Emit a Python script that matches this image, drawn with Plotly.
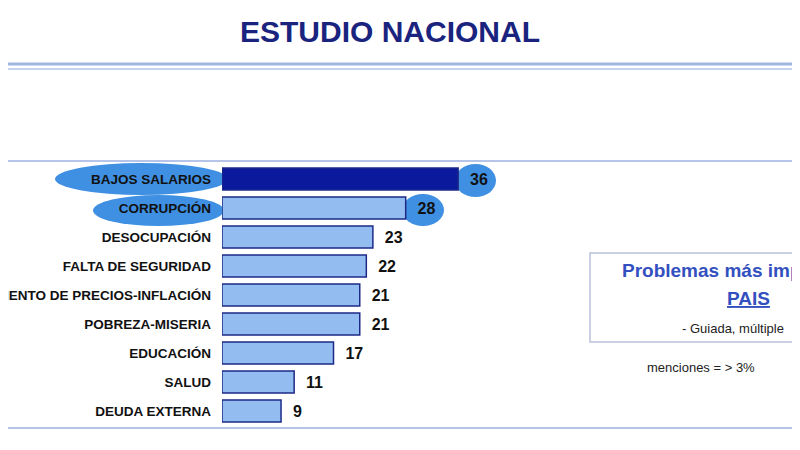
import plotly.graph_objects as go

problemas = ["BAJOS SALARIOS", "CORRUPCIÓN", "DESOCUPACIÓN", "FALTA DE SEGURIDAD",
             "AUMENTO DE PRECIOS-INFLACIÓN", "POBREZA-MISERIA", "EDUCACIÓN", "SALUD",
             "DEUDA EXTERNA"]
menciones = [36, 28, 23, 22, 21, 21, 17, 11, 9]

W, H = 800, 450
OFF = 8  # margen del body de la pagina


def px(x):
    return (x - OFF) / W


def py(y):
    return 1 - (y - OFF) / H


colores = ["#0b1a9c"] + ["#93bcf0"] * (len(menciones) - 1)

fig = go.Figure(go.Bar(
    y=problemas, x=menciones, orientation="h",
    marker=dict(color=colores, line=dict(color="#1c2a86", width=1.5)),
    width=0.76,
    text=["  <b>%d</b>" % v for v in menciones], textposition="outside", cliponaxis=False,
    textfont=dict(family="Liberation Sans", size=16, color="#111"),
))

shapes = []
# lineas horizontales
for y, w, c in [(64, 3, "#9fb6e0"), (69, 2, "#c5d3ee"), (161, 2, "#b5c4e8"), (428, 2, "#b5c4e8")]:
    shapes.append(dict(type="line", xref="paper", yref="paper", x0=-0.05, x1=1.05,
                       y0=py(y), y1=py(y), line=dict(color=c, width=w)))
# elipses resaltadas
for x0, x1, y0, y1 in [(55, 228, 163, 195), (455, 496, 164, 197),
                       (93, 224, 195, 226), (402, 444, 194, 226)]:
    shapes.append(dict(type="circle", xref="paper", yref="paper", layer="below",
                       x0=px(x0), x1=px(x1), y0=py(y1), y1=py(y0),
                       fillcolor="#3f90e2", line=dict(color="#3f90e2", width=0)))
# recuadro
shapes.append(dict(type="rect", xref="paper", yref="paper", x0=px(590), x1=px(810),
                   y0=py(342), y1=py(253), line=dict(color="#b8c0dc", width=1.5)))

annotations = [
    dict(text="<b>ESTUDIO NACIONAL</b>", x=px(390), y=py(31), xref="paper", yref="paper",
         yanchor="middle", showarrow=False,
         font=dict(family="Liberation Sans", size=30, color="#1a237e")),
    dict(text="<b>Problemas más importantes del</b>", x=px(620), y=py(270), xref="paper",
         yref="paper", xanchor="left", yanchor="middle", showarrow=False,
         font=dict(family="Liberation Sans", size=19, color="#3350c0")),
    dict(text="<b><u>PAIS</u></b>", x=px(772), y=py(298), xref="paper", yref="paper",
         yanchor="middle", showarrow=False,
         font=dict(family="Liberation Sans", size=19, color="#3350c0")),
    dict(text="- Guiada, múltiple", x=px(680), y=py(328), xref="paper", yref="paper",
         xanchor="left", yanchor="middle", showarrow=False,
         font=dict(family="Liberation Sans", size=13, color="#222")),
    dict(text="menciones = > 3%", x=px(645), y=py(367), xref="paper", yref="paper",
         xanchor="left", yanchor="middle", showarrow=False,
         font=dict(family="Liberation Sans", size=13, color="#222")),
]

fig.update_layout(
    width=W, height=H, margin=dict(l=0, r=0, t=0, b=0),
    paper_bgcolor="white", plot_bgcolor="white", showlegend=False,
    xaxis=dict(domain=[px(222), 1], range=[0, (W + OFF - 222) / 6.56], visible=False),
    yaxis=dict(domain=[py(425.5), py(164.5)], autorange="reversed", automargin=False,
               showgrid=False, ticks="", ticklabelstandoff=10,
               tickvals=problemas,
               ticktext=["<b>%s</b>" % p for p in problemas],
               tickfont=dict(family="Liberation Sans", size=13.5, color="#111")),
    shapes=shapes, annotations=annotations,
    font=dict(family="Liberation Sans"),
)
fig.write_html("out.html")
